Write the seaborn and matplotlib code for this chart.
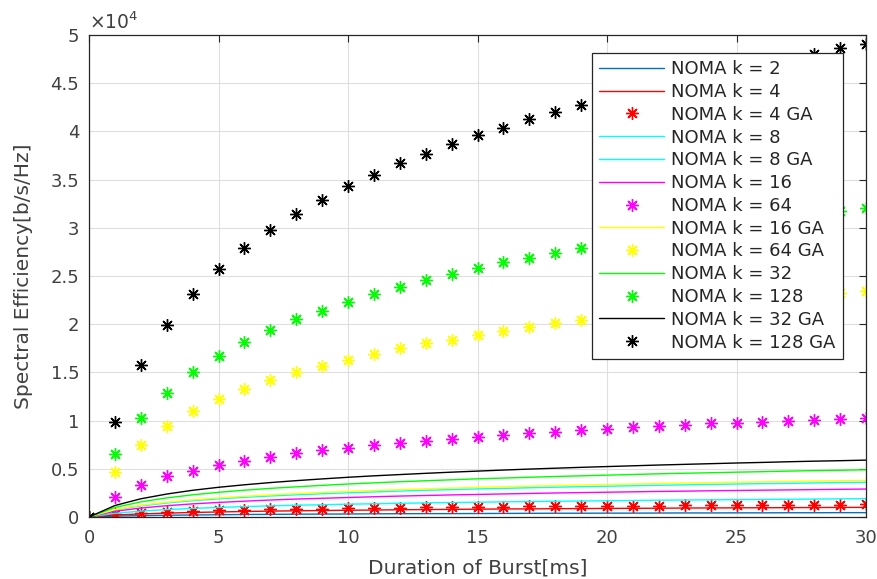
"""
NOMA spectral efficiency vs burst duration.
"""

import matplotlib
matplotlib.use("Agg")
import matplotlib.pyplot as plt
import seaborn as sns

# burst duration [ms]
x = list(range(0, 31))

# lines
k2 = [0, 90, 140, 180, 210, 230, 260, 270, 290, 300, 310, 330, 340, 350, 350, 360,
      370, 380, 390, 390, 400, 400, 410, 420, 420, 430, 430, 440, 440, 450, 450]
k4 = [0, 200, 320, 400, 470, 520, 570, 610, 640, 670, 700, 720, 750, 770, 790, 810,
      830, 840, 860, 870, 890, 900, 910, 930, 940, 950, 960, 970, 980, 990, 1000]
k8 = [0, 380, 610, 770, 890, 990, 1080, 1150, 1220, 1270, 1330, 1370, 1420, 1460, 1500, 1530,
      1570, 1600, 1630, 1660, 1680, 1710, 1740, 1760, 1780, 1800, 1820, 1840, 1860, 1880, 1900]
k8_ga = [0, 730, 1150, 1450, 1690, 1880, 2040, 2180, 2300, 2410, 2510, 2600, 2690, 2770, 2840, 2910,
         2970, 3030, 3090, 3140, 3190, 3240, 3290, 3330, 3380, 3420, 3460, 3490, 3530, 3570, 3600]
k16 = [0, 590, 930, 1170, 1360, 1510, 1640, 1760, 1860, 1940, 2020, 2100, 2170, 2230, 2290, 2340,
       2390, 2440, 2490, 2530, 2570, 2610, 2650, 2680, 2720, 2750, 2780, 2810, 2840, 2870, 2900]
k16_ga = [0, 770, 1220, 1530, 1780, 1980, 2150, 2300, 2430, 2550, 2650, 2750, 2840, 2920, 3000, 3070,
          3140, 3200, 3260, 3320, 3370, 3420, 3470, 3520, 3560, 3610, 3650, 3690, 3730, 3760, 3800]
k32 = [0, 990, 1570, 1980, 2300, 2560, 2780, 2970, 3130, 3280, 3420, 3540, 3660, 3760, 3860, 3960,
       4040, 4120, 4200, 4270, 4340, 4410, 4480, 4540, 4590, 4650, 4700, 4760, 4810, 4850, 4900]
k32_ga = [0, 1190, 1890, 2380, 2770, 3080, 3340, 3570, 3770, 3950, 4120, 4270, 4400, 4530, 4650, 4760,
          4870, 4970, 5060, 5150, 5230, 5310, 5390, 5460, 5530, 5600, 5660, 5730, 5790, 5840, 5900]

# star markers
k4_ga = [0, 260, 420, 520, 610, 680, 740, 790, 830, 870, 910, 940, 970, 1000, 1020, 1050,
         1070, 1090, 1110, 1130, 1150, 1170, 1190, 1200, 1220, 1230, 1250, 1260, 1270, 1290, 1300]
k64 = [0, 2100, 3300, 4200, 4800, 5400, 5800, 6200, 6600, 6900, 7200, 7500, 7700, 7900, 8100, 8300,
       8500, 8700, 8800, 9000, 9100, 9300, 9400, 9500, 9700, 9800, 9900, 10000, 10100, 10200, 10300]
k64_ga = [0, 4700, 7500, 9400, 11000, 12200, 13300, 14200, 15000, 15700, 16300, 16900, 17500, 18000, 18400, 18900,
          19300, 19700, 20100, 20400, 20700, 21100, 21400, 21700, 21900, 22200, 22500, 22700, 22900, 23200, 23400]
k128 = [0, 6500, 10300, 12900, 15000, 16700, 18100, 19400, 20500, 21400, 22300, 23100, 23900, 24600, 25200, 25800,
        26400, 26900, 27400, 27900, 28400, 28800, 29200, 29600, 30000, 30400, 30700, 31100, 31400, 31700, 32000]
k128_ga = [0, 9900, 15800, 19900, 23100, 25700, 27900, 29800, 31400, 32900, 34300, 35500, 36700, 37700, 38700, 39600,
           40400, 41300, 42000, 42700, 43400, 44100, 44700, 45300, 45900, 46500, 47000, 47500, 48000, 48600, 49100]

sns.set_style("white")
plt.rcParams["font.family"] = ["DejaVu Sans"]

fig = plt.figure(figsize=(8.78, 5.79), dpi=100)
ax = fig.add_axes([0.1014, 0.1071, 0.885, 0.8325])

star = (8, 2, 0)

def line(y, c, lab):
    sns.lineplot(x=x, y=y, color=c, linewidth=1.0, label=lab, ax=ax)

def stars(y, c, lab):
    sns.lineplot(x=x, y=y, color=c, linestyle="none", marker=star, markersize=9,
                 mec=c, mew=1.0, label=lab, ax=ax)

line(k2, "#0072BD", "NOMA k = 2")
line(k4, "#FF0000", "NOMA k = 4")
stars(k4_ga, "#FF0000", "NOMA k = 4 GA")
line(k8, "#00FFFF", "NOMA k = 8")
line(k8_ga, "#00FFFF", "NOMA k = 8 GA")
line(k16, "#FF00FF", "NOMA k = 16")
stars(k64, "#FF00FF", "NOMA k = 64")
line(k16_ga, "#FFFF00", "NOMA k = 16 GA")
stars(k64_ga, "#FFFF00", "NOMA k = 64 GA")
line(k32, "#00FF00", "NOMA k = 32")
stars(k128, "#00FF00", "NOMA k = 128")
line(k32_ga, "#000000", "NOMA k = 32 GA")
stars(k128_ga, "#000000", "NOMA k = 128 GA")

ax.set_xlim(0, 30)
ax.set_ylim(0, 50000)
ax.set_xticks(range(0, 31, 5))
yt = list(range(0, 50001, 5000))
ax.set_yticks(yt)
ax.set_yticklabels(["%g" % (v / 1e4) for v in yt])
ax.grid(True, color="#DFDFDF", linewidth=0.8)
ax.tick_params(direction="in", length=5, colors="#262626", labelsize=13,
               top=True, right=True, labelcolor="#404040")
ax.tick_params(axis="x", pad=9)
ax.tick_params(axis="y", pad=7)
for s in ax.spines.values():
    s.set_color("#262626")
    s.set_linewidth(0.9)

ax.set_xlabel("Duration of Burst[ms]", fontsize=14.5, color="#404040", labelpad=8)
ax.set_ylabel("Spectral Efficiency[b/s/Hz]", fontsize=14.5, color="#404040", labelpad=13)
ax.text(0.0, 1.005, "×10$^4$", transform=ax.transAxes, fontsize=13.5, color="#404040",
        ha="left", va="bottom")

leg = ax.legend(loc="upper right", bbox_to_anchor=(0.9704, 0.9627), borderaxespad=0,
                fontsize=13, frameon=True, fancybox=False, edgecolor="#262626", framealpha=1,
                handlelength=3.6, labelspacing=0.265, borderpad=0.4, handletextpad=0.4)
leg.get_frame().set_linewidth(0.9)

fig.savefig("out.png", dpi=100)
